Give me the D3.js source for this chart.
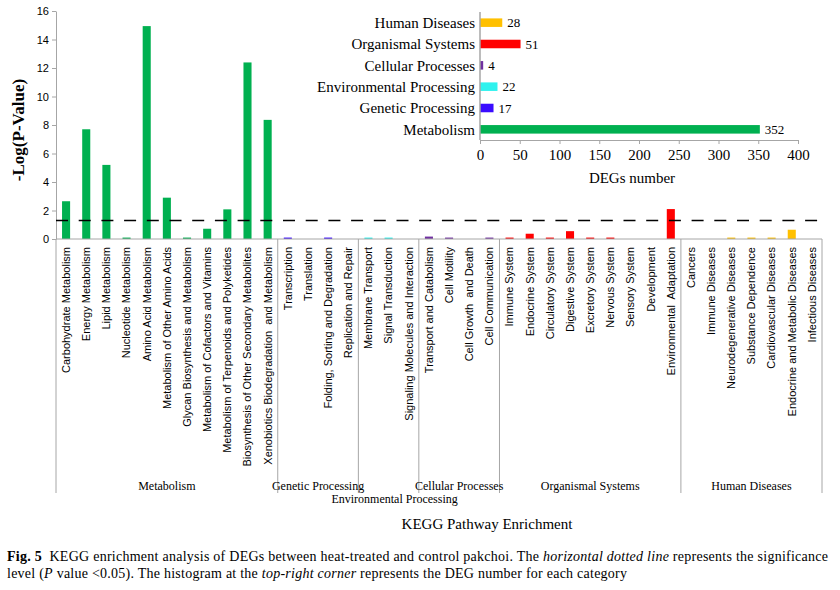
<!DOCTYPE html>
<html>
<head>
<meta charset="utf-8">
<script src="https://cdn.jsdelivr.net/npm/d3@7"></script>
<style>
  body { margin: 0; background: #fff; }
  .cat { font-family: "Liberation Sans", Arial, sans-serif; font-size: 11px; fill: #000; }
  .serif { font-family: "Liberation Serif", "Times New Roman", serif; fill: #000; }
  .axis path, .axis line { stroke: #a6a6a6; }
</style>
</head>
<body>
<svg id="chart" width="840" height="590"></svg>
<script>
// KEGG level-1 groups and how many pathways each holds
const groupNames = ["Metabolism", "Genetic Processing", "Environmental Processing",
  "Cellular Processes", "Organismal Systems", "Human Diseases"];
const groupCounts = [11, 4, 3, 4, 9, 7];
const groupColors = ["#00b050", "#3a0cff", "#2ef2ee", "#7030a0", "#ff0000", "#ffc000"];

const categories = [
  "Carbohydrate Metabolism", "Energy Metabolism", "Lipid Metabolism", "Nucleotide Metabolism",
  "Amino Acid Metabolism", "Metabolism of Other Amino Acids", "Glycan Biosynthesis and Metabolism",
  "Metabolism of Cofactors and Vitamins", "Metabolism of Terpenoids and Polyketides",
  "Biosynthesis of Other Secondary Metabolites", "Xenobiotics Biodegradation  and Metabolism",
  "Transcription", "Translation", "Folding, Sorting and Degradation", "Replication and Repair",
  "Membrane Transport", "Signal Transduction", "Signaling Molecules and Interaction",
  "Transport and Catabolism", "Cell Motility", "Cell Growth  and Death", "Cell Communication",
  "Immune System", "Endocrine System", "Circulatory System", "Digestive System", "Excretory System",
  "Nervous System", "Sensory System", "Development", "Environmental  Adaptation",
  "Cancers", "Immune Diseases", "Neurodegenerative Diseases", "Substance Dependence",
  "Cardiovascular Diseases", "Endocrine and Metabolic Diseases", "Infectious Diseases"
];
const logP = [
  2.65, 7.7, 5.2, 0.1, 14.94, 2.9, 0.1, 0.72, 2.08, 12.39, 8.36,
  0.1, 0, 0.1, 0,
  0.1, 0.1, 0,
  0.17, 0.1, 0, 0.1,
  0.1, 0.37, 0.1, 0.55, 0.1, 0.1, 0, 0, 2.1,
  0, 0, 0.1, 0.1, 0.1, 0.65, 0
];
const yTicks = [0, 2, 4, 6, 8, 10, 12, 14, 16];
const cutoff = 1.3; // -log10(0.05)

// inset: DEG number per group
const insetNames = ["Human Diseases", "Organismal Systems", "Cellular Processes",
  "Environmental Processing", "Genetic Processing", "Metabolism"];
const insetValues = [28, 51, 4, 22, 17, 352];
const insetColors = ["#ffc000", "#ff0000", "#7030a0", "#2ef2ee", "#3a0cff", "#00b050"];
const insetTicks = [0, 50, 100, 150, 200, 250, 300, 350, 400];

const svg = d3.select("#chart");

// group index of every category
let catGroup = [];
groupCounts.forEach((n, g) => { for (let i = 0; i < n; i++) catGroup.push(g); });

let x = d3.scaleBand().domain(categories).range([56, 822]).paddingInner(0.6).paddingOuter(0.3);
let y = d3.scaleLinear().domain([0, 16]).range([239, 11]);
let bottom = 493;

// bars
svg.append("g").selectAll("rect")
  .data(categories)
  .enter()
  .append("rect")
  .attr("x", d => x(d))
  .attr("width", x.bandwidth())
  .attr("y", (d, i) => y(logP[i]))
  .attr("height", (d, i) => y(0) - y(logP[i]))
  .attr("fill", (d, i) => groupColors[catGroup[i]]);

// y axis
let yAxis = svg.append("g")
  .attr("class", "axis")
  .attr("transform", "translate(56,0)")
  .call(d3.axisLeft(y).tickValues(yTicks).tickSize(4).tickSizeOuter(0));
yAxis.selectAll("text")
  .attr("font-family", "Liberation Sans, Arial, sans-serif")
  .attr("font-size", 11)
  .attr("fill", "#000");

// x axis baseline
svg.append("line")
  .attr("x1", 56).attr("x2", 822)
  .attr("y1", y(0)).attr("y2", y(0))
  .attr("stroke", "#a6a6a6");

// group boundaries
let bounds = [0];
groupCounts.forEach(n => bounds.push(bounds[bounds.length - 1] + n));
let edge = i => x.range()[0] + i * x.step();

svg.append("g").selectAll("line")
  .data(bounds)
  .enter()
  .append("line")
  .attr("x1", d => edge(d)).attr("x2", d => edge(d))
  .attr("y1", y(0)).attr("y2", bottom)
  .attr("stroke", "#a6a6a6");

// category labels
svg.append("g").selectAll("text")
  .data(categories)
  .enter()
  .append("text")
  .attr("class", "cat")
  .attr("transform", d => `translate(${x(d) + x.bandwidth() / 2},247) rotate(-90)`)
  .attr("text-anchor", "end")
  .attr("dy", "0.35em")
  .style("white-space", "pre")
  .text(d => d);

// group labels
svg.append("g").selectAll("text")
  .data(groupNames)
  .enter()
  .append("text")
  .attr("class", "serif")
  .attr("font-size", 12)
  .attr("text-anchor", "middle")
  .attr("x", (d, i) => (edge(bounds[i]) + edge(bounds[i + 1])) / 2 + (i == 2 ? 6 : 0))
  .attr("y", (d, i) => i == 2 ? 503 : 490)
  .text(d => d);

// significance line
svg.append("line")
  .attr("x1", 56).attr("x2", 820)
  .attr("y1", y(cutoff)).attr("y2", y(cutoff))
  .attr("stroke", "#000")
  .attr("stroke-width", 1.5)
  .attr("stroke-dasharray", "12,10.7");

// y title
svg.append("text")
  .attr("class", "serif")
  .attr("font-size", 17)
  .attr("font-weight", "bold")
  .attr("text-anchor", "middle")
  .attr("transform", "translate(24,130) rotate(-90)")
  .text("-Log(P-Value)");

// ---- inset ----
let xi = d3.scaleLinear().domain([0, 400]).range([480, 798]);
let yi = d3.scaleBand().domain(insetNames).range([12, 140]).paddingInner(0.6).paddingOuter(0.3);

svg.append("g").selectAll("rect")
  .data(insetNames)
  .enter()
  .append("rect")
  .attr("x", xi(0))
  .attr("y", d => yi(d))
  .attr("height", yi.bandwidth())
  .attr("width", (d, i) => xi(insetValues[i]) - xi(0))
  .attr("fill", (d, i) => insetColors[i]);

let xiAxis = svg.append("g")
  .attr("class", "axis")
  .attr("transform", "translate(0,140)")
  .call(d3.axisBottom(xi).tickValues(insetTicks).tickSize(4).tickSizeOuter(0).tickPadding(5));
xiAxis.selectAll("text")
  .attr("font-family", "Liberation Serif, Times New Roman, serif")
  .attr("font-size", 15)
  .attr("fill", "#000");

svg.append("line")
  .attr("x1", xi(0)).attr("x2", xi(0))
  .attr("y1", 12).attr("y2", 140)
  .attr("stroke", "#a6a6a6")
  .attr("stroke-width", 1.5);

svg.append("g").selectAll("text")
  .data(insetNames)
  .enter()
  .append("text")
  .attr("class", "serif")
  .attr("font-size", 15)
  .attr("text-anchor", "end")
  .attr("x", 475)
  .attr("y", d => yi(d) + yi.bandwidth() / 2)
  .attr("dy", "0.35em")
  .text(d => d);

svg.append("g").selectAll("text")
  .data(insetValues)
  .enter()
  .append("text")
  .attr("class", "serif")
  .attr("font-size", 13)
  .attr("x", d => xi(d) + 5)
  .attr("y", (d, i) => yi(insetNames[i]) + yi.bandwidth() / 2)
  .attr("dy", "0.35em")
  .text(d => d);

svg.append("text")
  .attr("class", "serif")
  .attr("font-size", 15)
  .attr("text-anchor", "middle")
  .attr("x", 632).attr("y", 183)
  .text("DEGs number");

// x title
svg.append("text")
  .attr("class", "serif")
  .attr("font-size", 15)
  .attr("text-anchor", "middle")
  .attr("x", 487).attr("y", 529)
  .text("KEGG  Pathway Enrichment");

// caption
let cap1 = svg.append("text")
  .attr("class", "serif")
  .attr("font-size", 14)
  .attr("x", 7).attr("y", 561)
  .attr("textLength", 821)
  .attr("lengthAdjust", "spacing");
cap1.append("tspan").attr("font-weight", "bold").text("Fig. 5");
cap1.append("tspan").text("\u00a0 KEGG enrichment analysis of DEGs between heat-treated and control pakchoi. The ");
cap1.append("tspan").attr("font-style", "italic").text("horizontal dotted line");
cap1.append("tspan").text(" represents the significance");

let cap2 = svg.append("text")
  .attr("class", "serif")
  .attr("font-size", 14)
  .attr("x", 7).attr("y", 578)
  .attr("textLength", 620)
  .attr("lengthAdjust", "spacing");
cap2.append("tspan").text("level (");
cap2.append("tspan").attr("font-style", "italic").text("P");
cap2.append("tspan").text(" value <0.05). The histogram at the ");
cap2.append("tspan").attr("font-style", "italic").text("top-right corner");
cap2.append("tspan").text(" represents the DEG number for each category");
</script>
</body>
</html>
